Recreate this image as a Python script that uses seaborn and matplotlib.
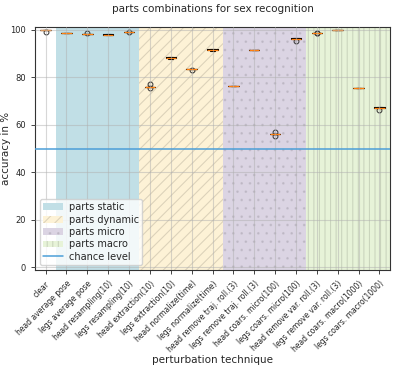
import pandas as pd
import matplotlib
matplotlib.use("Agg")
import matplotlib.pyplot as plt
import seaborn as sns

# --- data (accuracy per fold) ---
techniques = [
    "clear", "head average pose", "legs average pose", "head resampling(10)",
    "legs resampling(10)", "head extraction(10)", "legs extraction(10)",
    "head normalize(time)", "legs normalize(time)", "head remove traj. roll.(3)",
    "legs remove traj. roll.(3)", "head coars. micro(100)", "legs coars. micro(100)",
    "head remove var. roll.(3)", "legs remove var. roll.(3)",
    "head coars. macro(1000)", "legs coars. macro(1000)",
]
acc_folds = [
    [100.0, 100.0, 100.0, 100.0, 99.0],
    [98.6, 98.6, 98.6, 98.6, 98.6],
    [98.2, 98.2, 98.2, 98.2, 98.6],
    [97.8, 97.9, 98.0, 98.1, 98.2],
    [99.3, 99.3, 99.3, 99.3, 99.0],
    [76.1, 76.1, 76.1, 77.1, 75.6],
    [87.8, 88.0, 88.2, 88.4, 88.6],
    [83.2, 83.4, 83.5, 83.5, 83.5],
    [91.2, 91.5, 91.6, 91.8, 92.0],
    [76.3, 76.4, 76.4, 76.5, 76.5],
    [91.4, 91.4, 91.4, 91.4, 91.4],
    [56.0, 56.0, 56.0, 56.8, 55.3],
    [96.3, 96.3, 96.5, 96.6, 95.4],
    [98.6, 98.7, 98.7, 98.7, 98.8],
    [99.9, 99.9, 99.9, 99.9, 99.9],
    [75.4, 75.4, 75.4, 75.4, 75.4],
    [67.0, 67.3, 67.4, 67.6, 66.2],
]
groups = ["parts static", "parts dynamic", "parts micro", "parts macro"]
group_ranges = [(1, 4), (5, 8), (9, 12), (13, 16)]
chance = 50

rows = []
for tech, vals in zip(techniques, acc_folds):
    for v in vals:
        rows.append({"technique": tech, "accuracy": v})
df = pd.DataFrame(rows)

sns.set_style("ticks")
plt.rcParams["font.family"] = ["DejaVu Sans"]
plt.rcParams["hatch.linewidth"] = 0.8

fig, ax = plt.subplots(figsize=(3.95, 3.66), dpi=100)

span_style = [
    dict(facecolor="#c1dfe6", hatch=None, hc=(0, 0, 0, 0.0)),
    dict(facecolor="#fdf2d6", hatch="///", hc=(0, 0, 0, 0.13)),
    dict(facecolor="#dbd4e3", hatch="..", hc=(0, 0, 0, 0.08)),
    dict(facecolor="#e7f3d8", hatch="|||", hc=(0, 0, 0, 0.12)),
]
for name, (a, b), st in zip(groups, group_ranges, span_style):
    ax.axvspan(a - 0.5, b + 0.5, facecolor=st["facecolor"], hatch=st["hatch"],
               edgecolor=st["hc"], linewidth=0, label=name, zorder=0)

ax.axhline(chance, color="#4c9fd8", lw=1.1, label="chance level", zorder=3)

sns.boxplot(data=df, x="technique", y="accuracy", order=techniques, ax=ax,
            fill=False, color="black", width=0.5, linewidth=0.8,
            medianprops={"color": "C1", "linewidth": 0.9},
            flierprops={"marker": "o", "markersize": 3.5, "markeredgewidth": 0.7,
                        "markeredgecolor": "#333333"})

ax.set_xlim(-0.5, len(techniques) - 0.5)
ax.set_ylim(-1.2, 101.2)
ax.set_yticks([0, 20, 40, 60, 80, 100])
ax.grid(True, color="#b0b0b0", alpha=0.5, lw=0.8)
ax.set_axisbelow(False)
ax.tick_params(axis="x", labelsize=5.5, length=3, width=0.6)
ax.tick_params(axis="y", labelsize=6, length=3, width=0.6)
plt.setp(ax.get_xticklabels(), rotation=45, ha="right", rotation_mode="anchor")
for s in ax.spines.values():
    s.set_linewidth(0.8)
    s.set_color("#333333")

ax.set_title("parts combinations for sex recognition", fontsize=7.5, pad=11)
ax.set_xlabel("perturbation technique", fontsize=7.5, labelpad=1)
ax.set_ylabel("accuracy in %", fontsize=7.5)
ax.yaxis.set_label_coords(-0.068, 0.5)

ax.legend(loc="lower left", fontsize=7, framealpha=0.8, handlelength=2.0,
          labelspacing=0.25, borderpad=0.35, handletextpad=0.6)

fig.subplots_adjust(left=0.089, right=0.987, top=0.926, bottom=0.262)
fig.savefig("out.png", dpi=100)
